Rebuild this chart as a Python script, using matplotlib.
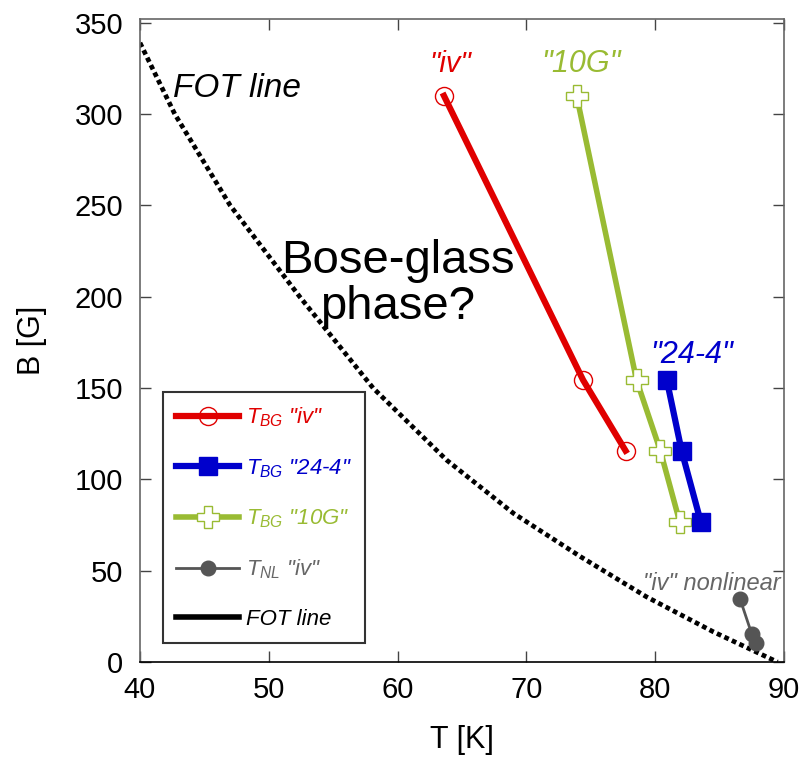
import matplotlib
matplotlib.use("Agg")
import numpy as np
from matplotlib import pyplot as plt
from matplotlib.lines import Line2D

plt.rcParams['font.family'] = 'Liberation Sans'
plt.rcParams['mathtext.fontset'] = 'custom'
plt.rcParams['mathtext.it'] = 'Liberation Sans:italic'
plt.rcParams['mathtext.rm'] = 'Liberation Sans'

# values
T_iv = [63.6, 74.4, 77.7]
B_iv = [310, 154.4, 115.7]
T_244 = [80.9, 82.05, 83.55]
B_244 = [154.4, 115.7, 76.5]
T_10G = [73.9, 78.55, 80.4, 81.9]
B_10G = [310, 154.4, 115.7, 76.8]
T_nl = [86.6, 87.5, 87.8]
B_nl = [34.3, 15.3, 10.2]
T_fot = [40.0, 42.7, 47.0, 52.4, 58.1, 63.8, 69.0, 74.2, 79.3, 84.5, 89.5]
B_fot = [339, 300, 250, 200, 150, 110.6, 81.4, 57.7, 35.8, 16.6, 0]

red = '#e00000'
blue = '#0000cc'
green = '#99bb33'
gray = '#555555'

fig = plt.figure(figsize=(8.05, 7.6), dpi=100)
ax = fig.add_axes([0.1739, 0.1289, 0.80, 0.846])

# FOT line, dotted
ax.plot(T_fot, B_fot, color='black', lw=3.4, linestyle=(0, (1, 0.75)),
        dash_capstyle='butt', zorder=2)

ax.plot(T_iv, B_iv, color=red, lw=4.5, marker='o', ms=13, mfc='none',
        mec=red, mew=1.0, zorder=3)
ax.plot(T_10G, B_10G, color=green, lw=4.0, marker='P', ms=15.5, mfc='white',
        mec=green, mew=1.0, zorder=3)
ax.plot(T_244, B_244, color=blue, lw=4.5, marker='s', ms=13.5, mfc=blue,
        mec=blue, zorder=4)
ax.plot(T_nl, B_nl, color=gray, lw=2.0, marker='o', ms=10.5, mfc=gray,
        mec=gray, zorder=4)

ax.set_xlim(40, 90)
ax.set_ylim(0, 352)
ax.set_xticks(np.arange(40, 91, 10))
ax.set_yticks(np.arange(0, 351, 50))
ax.tick_params(direction='in', length=8, width=1, labelsize=21,
               top=True, right=True, color='#444444')
ax.tick_params(axis='y', pad=12)
ax.tick_params(axis='x', pad=10)
for s in ['top', 'right', 'left']:
    ax.spines[s].set_color('#666666')
    ax.spines[s].set_linewidth(1.2)
ax.spines['bottom'].set_color('black')
ax.spines['bottom'].set_linewidth(1.2)

ax.set_xlabel('T [K]', fontsize=22, labelpad=15)
ax.set_ylabel('B [G]', fontsize=22, labelpad=20)

# annotations
ax.text(42.6, 309.5, 'FOT line', fontsize=24, style='italic')
ax.text(60.0, 207, 'Bose-glass\nphase?', fontsize=34, ha='center',
        va='center', linespacing=1.08)
ax.text(64.1, 323, '"iv"', fontsize=21, style='italic', color=red,
        ha='center')
ax.text(74.2, 323, '"10G"', fontsize=22, style='italic', color=green,
        ha='center')
ax.text(79.6, 163.5, '"24-4"', fontsize=22, style='italic', color=blue)
ax.text(79.05, 39.4, '"iv" nonlinear', fontsize=17, style='italic',
        color='#666666')

handles = [
    Line2D([], [], color=red, lw=4.5, marker='o', ms=13, mfc='none',
           mec=red, mew=1.0),
    Line2D([], [], color=blue, lw=4.5, marker='s', ms=13.5, mfc=blue,
           mec=blue),
    Line2D([], [], color=green, lw=4.0, marker='P', ms=15.5, mfc='white',
           mec=green, mew=1.0),
    Line2D([], [], color=gray, lw=2.0, marker='o', ms=10.5, mfc=gray,
           mec=gray),
    Line2D([], [], color='black', lw=4.0),
]
labels = [r'$T_{BG}$ "iv"', r'$T_{BG}$ "24-4"', r'$T_{BG}$ "10G"',
          r'$T_{NL}$ "iv"', 'FOT line']
text_colors = [red, blue, green, '#666666', 'black']

leg = ax.legend(handles, labels, loc='lower left',
                bbox_to_anchor=(0.035, 0.029), fontsize=16,
                frameon=True, fancybox=False, edgecolor='black',
                handlelength=2.85, handletextpad=0.3, labelspacing=1.25,
                borderpad=0.6, borderaxespad=0)
leg.get_frame().set_linewidth(1.5)
for txt, c in zip(leg.get_texts(), text_colors):
    txt.set_color(c)
    txt.set_style('italic')

plt.savefig('out.png', dpi=100)
